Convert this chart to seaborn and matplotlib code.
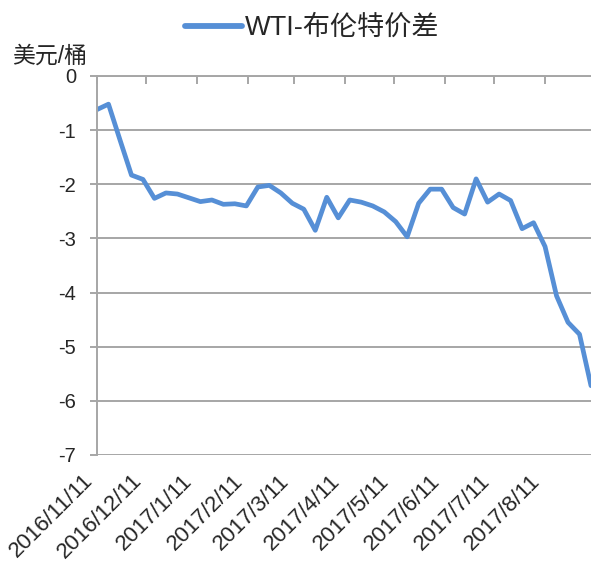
import matplotlib
matplotlib.use("Agg")
import matplotlib.pyplot as plt
import matplotlib.transforms as mtransforms
import seaborn as sns
import pandas as pd
import numpy as np

# ---- data ----
start_date = "2016-11-11"
n_weeks = 44
spread = [-0.62, -0.52, -1.18, -1.83, -1.91, -2.26, -2.16, -2.18, -2.25, -2.32,
          -2.29, -2.37, -2.36, -2.40, -2.05, -2.02, -2.16, -2.35, -2.46, -2.85,
          -2.24, -2.62, -2.29, -2.33, -2.40, -2.51, -2.69, -2.97, -2.35, -2.09,
          -2.09, -2.43, -2.55, -1.90, -2.33, -2.18, -2.30, -2.82, -2.71, -3.15,
          -4.06, -4.55, -4.77, -5.72]
tick_labels = ["2016/11/11", "2016/12/11", "2017/1/11", "2017/2/11", "2017/3/11",
               "2017/4/11", "2017/5/11", "2017/6/11", "2017/7/11", "2017/8/11"]
series_name = "WTI-布伦特价差"
y_unit = "美元/桶"

dates = pd.date_range(start_date, periods=n_weeks, freq="7D")
df = pd.DataFrame({"date": dates, "value": spread, "series": series_name})

sns.set_style("white")
plt.rcParams['font.family'] = ['Liberation Sans', 'Noto Sans CJK SC', 'DejaVu Sans']
plt.rcParams['axes.unicode_minus'] = False

fig = plt.figure(figsize=(5.91, 5.68), dpi=100)
ax = fig.add_axes([97/591, 1-455/568, 1-97/591, (455-76)/568])

line_color = "#568fd6"
sns.lineplot(data=df, x="date", y="value", ax=ax, color=line_color,
             linewidth=3.4, legend=False)

grid_c = "#a6a6a6"
ax.set_ylim(-7, 0)
ax.set_yticks(np.arange(-7, 1, 1))
ax.set_yticklabels([str(v) for v in range(-7, 1)])
ax.yaxis.grid(True, color=grid_c, linewidth=1.4)
ax.set_axisbelow(True)
ax.set_xlim(dates[0], dates[-1])

tick_dates = pd.to_datetime([t.replace("/", "-") for t in tick_labels])
ax.set_xticks(tick_dates)
ax.set_xticklabels(tick_labels, rotation=45, ha="right", va="top",
                   rotation_mode="anchor", fontsize=16)
ax.tick_params(axis="x", top=True, bottom=False, labeltop=False, labelbottom=True,
               direction="in", length=6, width=1.4, color=grid_c, pad=11)
offset = mtransforms.ScaledTranslation(-15/100, 0, fig.dpi_scale_trans)
for lab in ax.get_xticklabels():
    lab.set_transform(lab.get_transform() + offset)
ax.tick_params(axis="y", left=True, direction="out", length=5, width=1.4,
               color=grid_c, labelsize=14.5, pad=10)

for side in ["right", "bottom"]:
    ax.spines[side].set_visible(False)
ax.spines["left"].set_color(grid_c)
ax.spines["left"].set_linewidth(1.4)
ax.spines["top"].set_color(grid_c)
ax.spines["top"].set_linewidth(1.4)

ax.set_xlabel("")
ax.set_ylabel("")

fig.text(12/591, 1-56/568, y_unit, ha="left", va="center", fontsize=16.5)

handle = plt.Line2D([], [], color=line_color, linewidth=4.2)
fig.legend([handle], [series_name], loc="center", bbox_to_anchor=(312/591, 1-28/568),
           frameon=False, fontsize=19.5, handlelength=2.1, handletextpad=0.1)

fig.savefig("out.png", dpi=100)
